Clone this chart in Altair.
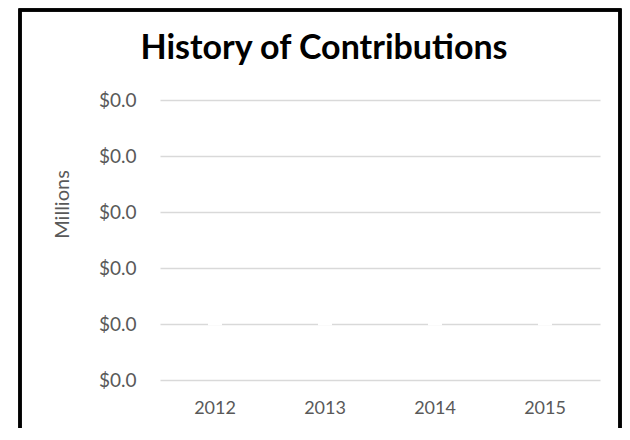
import altair as alt
import pandas as pd

years = ["2012", "2013", "2014", "2015"]
contributions_millions = [0.000001, 0.000001, 0.000001, 0.000001]
y_ticks = [0.0, 0.000001, 0.000002, 0.000003, 0.000004, 0.000005]

df = pd.DataFrame({"year": years, "value": contributions_millions})

FONT = "Lato"
GRAY = "#595959"

x_enc = alt.X("year:N", sort=years, scale=alt.Scale(paddingInner=0, paddingOuter=0),
              axis=alt.Axis(title=None, labelAngle=0, labelFontSize=18, labelColor=GRAY,
                            labelFont=FONT, labelPadding=19, ticks=False, domain=False, grid=False))
y_enc = alt.Y("value:Q", scale=alt.Scale(domain=[0, 0.000005], nice=False),
              axis=alt.Axis(title="Millions", values=y_ticks, format="$.1f",
                            labelFontSize=19, labelColor=GRAY, labelFont=FONT, labelPadding=24,
                            titleFontSize=20, titleColor=GRAY, titleFont=FONT, titleFontWeight="normal",
                            titlePadding=26, titleY=104, ticks=False, domain=False, grid=True,
                            gridColor="#d9d9d9", gridWidth=1.5))

points = alt.Chart(df).mark_tick(color="white", thickness=3, size=14, opacity=1).encode(
    x=x_enc, y=y_enc)

frame = alt.Chart(df).mark_rect(fill=None, stroke="black", strokeWidth=3).encode(
    x=alt.value(-140), x2=alt.value(460), y=alt.value(-90), y2=alt.value(340))

chart = alt.layer(points, frame).properties(
    width=440, height=280,
    background="white",
    title=alt.TitleParams("History of Contributions", font=FONT, fontSize=34, fontWeight="bold",
                          color="black", anchor="middle", baseline="alphabetic", offset=0,
                          dx=-56, dy=84),
    autosize=alt.AutoSizeParams(type="none"),
    padding={"left": 152, "top": 92, "right": 22, "bottom": 48},
).configure_view(stroke="transparent", strokeWidth=0)

chart.save("out.html", embed_options={"renderer": "svg", "actions": False})
